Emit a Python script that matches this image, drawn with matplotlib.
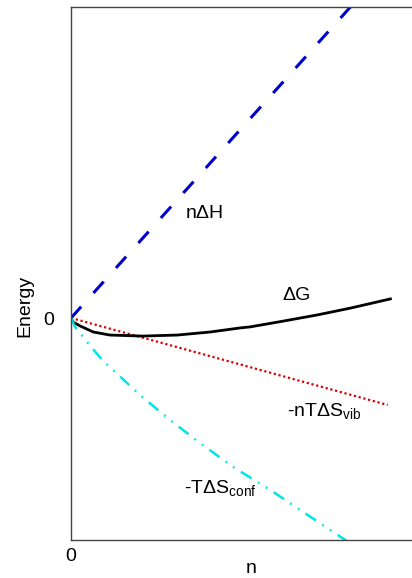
import matplotlib.pyplot as plt

plt.rcParams['font.family'] = ['Liberation Sans', 'DejaVu Sans']
plt.rcParams['mathtext.fontset'] = 'custom'
plt.rcParams['mathtext.rm'] = 'Liberation Sans'

# values (arbitrary energy units, n in arbitrary units)
n_dh = [0.0, 8.18, 8.6]
e_dh = [0.0, 9.12, 9.59]

n_vib = [0.0, 9.27]
e_vib = [0.0, -2.55]

n_dg = [0.0, 0.06, 0.26, 0.65, 1.14, 2.11, 3.11, 4.08, 4.96, 5.25, 6.22, 7.21, 8.18, 9.35]
e_dg = [0.0, -0.12, -0.23, -0.41, -0.50, -0.53, -0.50, -0.41, -0.29, -0.26, -0.09, 0.09, 0.29, 0.56]

n_conf = [0.0, 0.12, 0.47, 0.91, 1.58, 2.02, 2.9, 3.78, 4.75, 5.83, 6.8, 8.03, 8.2]
e_conf = [0.0, -0.26, -0.70, -1.23, -1.85, -2.26, -2.99, -3.67, -4.37, -5.04, -5.69, -6.51, -6.62]

fig = plt.figure(figsize=(4.12, 5.78), dpi=100)
ax = fig.add_axes([71 / 412, 38 / 578, 345 / 412, 533 / 578])

ax.plot(n_dh, e_dh, color='#0000cc', lw=2.2, linestyle=(0, (5, 6)))
ax.plot(n_vib, e_vib, color='#dd0000', lw=1.6, linestyle=(0, (1, 1.2)))
ax.plot(n_dg, e_dg, color='black', lw=2)
ax.plot(n_conf, e_conf, color='#00e5e5', lw=1.8, linestyle=(0, (5, 3, 0.7, 3, 0.7, 3)))

ax.text(3.93, 3.07, 'n\u0394H', fontsize=14, ha='center', va='center')
ax.text(6.59, 0.65, '\u0394G', fontsize=14, ha='center', va='center')
ax.text(7.41, -2.75, '-nT\u0394S$_{\\mathrm{vib}}$', fontsize=14, ha='center', va='center')
ax.text(4.36, -5.0, '-T\u0394S$_{\\mathrm{conf}}$', fontsize=14, ha='center', va='center')

ax.set_xlim(0, 10.1)
ax.set_ylim(-6.51, 9.12)
ax.set_xticks([0])
ax.set_yticks([0])
ax.tick_params(length=0, labelsize=14)
ax.tick_params(axis='y', pad=12)
ax.tick_params(axis='x', pad=6)
ax.set_xlabel('n', fontsize=14)
ax.set_ylabel('Energy', fontsize=14)
ax.xaxis.set_label_coords(0.522, -0.038)
ax.yaxis.set_label_coords(-0.11, 0.439)
for s in ax.spines.values():
    s.set_color('#444444')
    s.set_linewidth(1)
ax.spines['right'].set_visible(False)

fig.savefig('out.png', dpi=100)
